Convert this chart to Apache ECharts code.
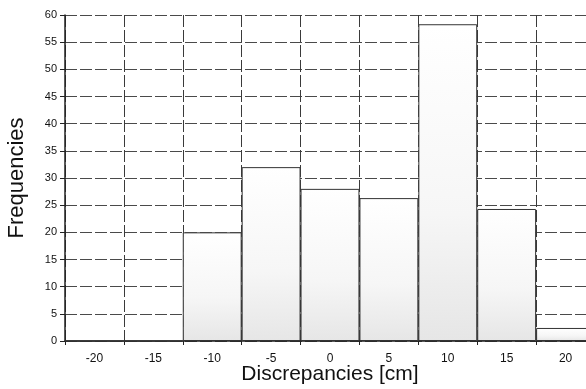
<!DOCTYPE html>
<html>
<head>
<meta charset="utf-8">
<script src="https://cdn.jsdelivr.net/npm/echarts@6/dist/echarts.min.js"></script>
<style>
  html, body { margin: 0; padding: 0; background: #fff; }
  #chart { width: 586px; height: 389px; }
</style>
</head>
<body>
<div id="chart"></div>
<script>
// histogram bins (cm) and their frequencies
const categories = ['-20', '-15', '-10', '-5', '0', '5', '10', '15', '20']
const frequencies = [0, 0, 20, 32, 28, 26.3, 58.3, 24.3, 2.4]
const yTicks = { min: 0, max: 60, interval: 5 }

const myChart = echarts.init(document.getElementById('chart'))
myChart.setOption({
  animation: false,
  textStyle: { fontFamily: 'Liberation Sans, Arial, sans-serif' },
  grid: { left: 65, top: 15, right: -9, bottom: 48, containLabel: false, outerBoundsMode: 'none' },
  xAxis: {
    type: 'category',
    data: categories,
    boundaryGap: true,
    name: 'Discrepancies [cm]',
    nameLocation: 'middle',
    nameGap: 23,
    nameMoveOverlap: false,
    nameTextStyle: { fontSize: 21, color: '#111' },
    axisLine: { lineStyle: { color: '#222', width: 1.5 } },
    axisTick: { show: true, length: 4, lineStyle: { color: '#222' } },
    axisLabel: { fontSize: 12, color: '#111', margin: 12 },
    splitLine: { show: true, lineStyle: { color: '#3a3a3a', width: 1, type: [12, 3] } }
  },
  yAxis: {
    type: 'value',
    min: yTicks.min,
    max: yTicks.max,
    interval: yTicks.interval,
    name: 'Frequencies',
    nameLocation: 'middle',
    nameGap: 37,
    nameMoveOverlap: false,
    nameTextStyle: { fontSize: 22, color: '#111' },
    axisLine: { show: true, lineStyle: { color: '#222', width: 1.5 } },
    axisTick: { show: true, inside: false, length: 5, lineStyle: { color: '#222' } },
    axisLabel: { fontSize: 11, color: '#111', margin: 8 },
    splitLine: { show: true, lineStyle: { color: '#4a4a4a', width: 1, type: [12, 3] } }
  },
  series: [{
    type: 'bar',
    data: frequencies,
    barCategoryGap: '0%',
    itemStyle: {
      borderColor: '#333',
      borderWidth: 1,
      color: {
        type: 'linear',
        x: 0, y: 0, x2: 0, y2: 1,
        colorStops: [
          { offset: 0, color: '#ffffff' },
          { offset: 0.6, color: '#f6f6f6' },
          { offset: 1, color: '#e6e6e6' }
        ]
      }
    }
  }]
})
</script>
</body>
</html>
